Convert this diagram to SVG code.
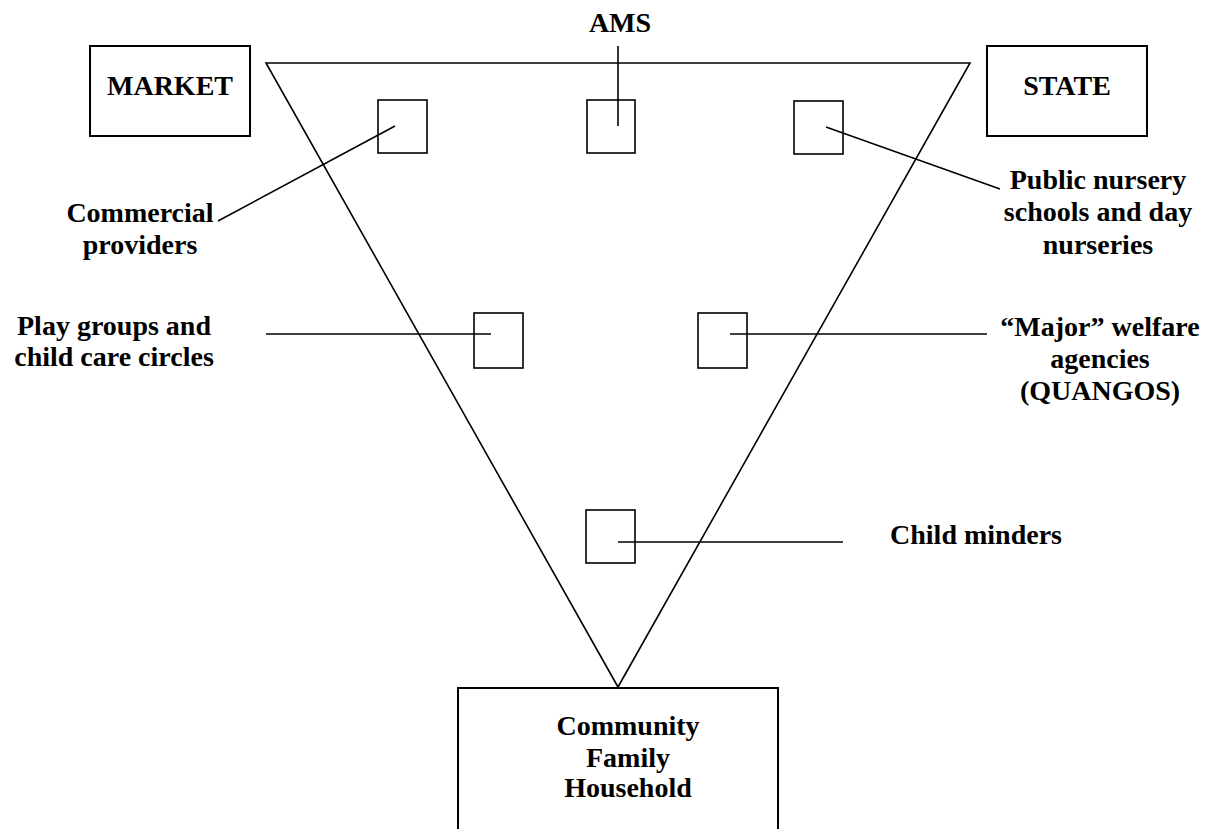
<svg xmlns="http://www.w3.org/2000/svg" width="1218" height="829" viewBox="0 0 1218 829">
<style>
.t{font-family:"Liberation Serif","Times New Roman",serif;font-weight:bold;font-size:28px;fill:#000;text-anchor:middle}
.b{fill:none;stroke:#000;stroke-width:2}
.s{fill:none;stroke:#000;stroke-width:1.6}
.l{fill:none;stroke:#000;stroke-width:1.6}
</style>
<rect width="1218" height="829" fill="#fff"/>
<g id="triangle"><polygon class="l" points="266,63 970,63 618,687"/></g>
<g id="market"><rect class="b" x="90" y="46" width="160" height="90"/><text class="t" x="170" y="95">MARKET</text></g>
<g id="state"><rect class="b" x="987" y="46" width="160" height="90"/><text class="t" x="1067" y="95">STATE</text></g>
<g id="household"><polyline class="b" points="458,829 458,688 778,688 778,829"/>
<text class="t" x="628" y="735">Community</text><text class="t" x="628" y="767">Family</text><text class="t" x="628" y="797">Household</text></g>
<g id="commercial"><rect class="s" x="378" y="100" width="49" height="53"/><text class="t" x="140" y="222">Commercial</text><text class="t" x="140" y="254">providers</text></g>
<g id="ams"><rect class="s" x="587" y="100" width="48" height="53"/><text class="t" x="620" y="32">AMS</text></g>
<g id="public"><rect class="s" x="794" y="101" width="49" height="53"/><text class="t" x="1098" y="189">Public nursery</text><text class="t" x="1098" y="221">schools and day</text><text class="t" x="1098" y="254">nurseries</text></g>
<g id="playgroups"><rect class="s" x="474" y="313" width="49" height="55"/><text class="t" x="114" y="335">Play groups and</text><text class="t" x="114" y="366">child care circles</text></g>
<g id="welfare"><rect class="s" x="698" y="313" width="49" height="55"/><text class="t" x="1100" y="336">“Major” welfare</text><text class="t" x="1100" y="368">agencies</text><text class="t" x="1100" y="400">(QUANGOS)</text></g>
<g id="minders"><rect class="s" x="586" y="510" width="49" height="53"/><text class="t" x="976" y="544">Child minders</text></g>
<g id="connectors">
<line class="l" x1="395" y1="126" x2="218" y2="221"/>
<line class="l" x1="618" y1="46" x2="618" y2="126"/>
<line class="l" x1="826" y1="127" x2="1000" y2="189"/>
<line class="l" x1="266" y1="334" x2="491" y2="334"/>
<line class="l" x1="730" y1="334" x2="987" y2="334"/>
<line class="l" x1="618" y1="542" x2="843" y2="542"/>
</g>
</svg>
